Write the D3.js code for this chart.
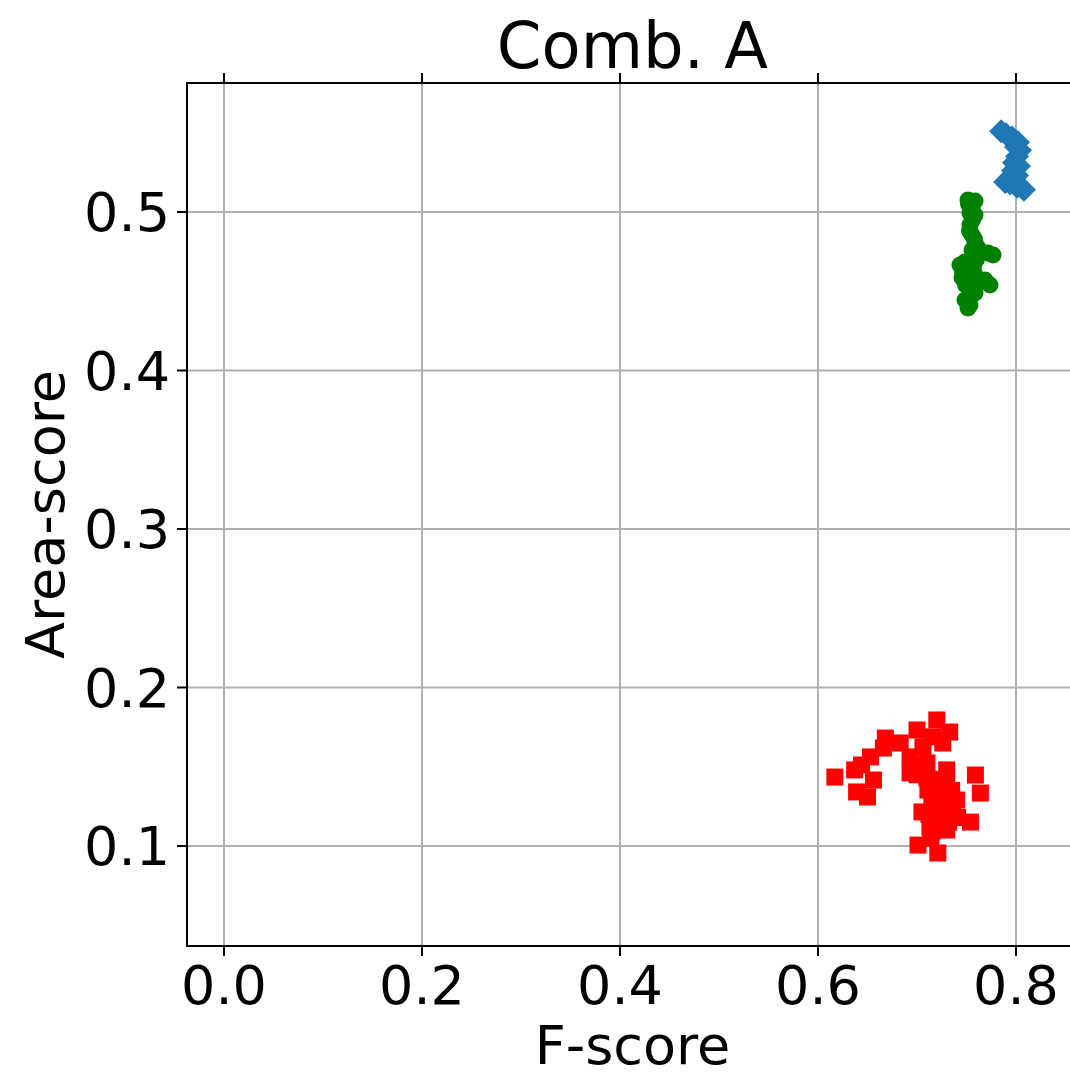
<!DOCTYPE html>
<meta charset="utf-8">
<script src="https://d3js.org/d3.v7.min.js"></script>
<style>
  body { margin: 0; background: #fff; }
  text { font-family: "DejaVu Sans", sans-serif; fill: #000; }
</style>
<div id="chart"></div>
<script>
// values
var xTicks = [0.0, 0.2, 0.4, 0.6, 0.8];
var yTicks = [0.1, 0.2, 0.3, 0.4, 0.5];

// blue diamonds
var blueX = [0.785, 0.790, 0.796, 0.802, 0.804, 0.801, 0.798, 0.797, 0.801, 0.792, 0.789, 0.801, 0.808, 0.800, 0.803, 0.795, 0.799, 0.794];
var blueY = [0.551, 0.549, 0.547, 0.544, 0.539, 0.535, 0.531, 0.526, 0.523, 0.520, 0.519, 0.516, 0.514, 0.541, 0.529, 0.522, 0.545, 0.518];

// green circles
var greenX = [0.7515, 0.7586, 0.7556, 0.7535, 0.7586, 0.7535, 0.7556, 0.7586, 0.7556, 0.7616, 0.7717, 0.7768, 0.7485, 0.7434, 0.7515, 0.7455, 0.7586, 0.7687, 0.7737, 0.7535, 0.7586, 0.7485, 0.7535, 0.7515, 0.7560, 0.7530, 0.7600, 0.7570, 0.7500, 0.7620, 0.7545, 0.7490, 0.7580, 0.7520, 0.7460, 0.7560];
var greenY = [0.5076, 0.5069, 0.5032, 0.4994, 0.4981, 0.4918, 0.4855, 0.4811, 0.4760, 0.4773, 0.4741, 0.4729, 0.4685, 0.4666, 0.4634, 0.4584, 0.4603, 0.4571, 0.4539, 0.4521, 0.4489, 0.4445, 0.4413, 0.4394, 0.4950, 0.4880, 0.4700, 0.4650, 0.4610, 0.4550, 0.4560, 0.4540, 0.4830, 0.5050, 0.4620, 0.4520];

// red squares
var redX = [0.617, 0.720, 0.733, 0.700, 0.668, 0.683, 0.666, 0.653, 0.644, 0.637, 0.656, 0.639, 0.650, 0.693, 0.693, 0.710, 0.730, 0.726, 0.759, 0.764, 0.740, 0.705, 0.713, 0.754, 0.730, 0.723, 0.701, 0.721, 0.711, 0.726, 0.706, 0.716, 0.736, 0.716, 0.710, 0.718, 0.725, 0.715, 0.730, 0.708, 0.722, 0.735, 0.712, 0.728, 0.719, 0.700, 0.741, 0.732, 0.714, 0.724];
var redY = [0.1435, 0.1795, 0.1719, 0.1732, 0.1681, 0.1650, 0.1618, 0.1562, 0.1511, 0.1480, 0.1416, 0.1341, 0.1309, 0.1562, 0.1461, 0.1524, 0.1480, 0.1353, 0.1448, 0.1334, 0.1290, 0.1215, 0.1120, 0.1151, 0.1101, 0.1227, 0.1006, 0.0956, 0.1353, 0.1650, 0.1625, 0.1688, 0.1227, 0.1095, 0.1430, 0.1380, 0.1300, 0.1260, 0.1400, 0.1500, 0.1170, 0.1350, 0.1200, 0.1250, 0.1320, 0.1450, 0.1180, 0.1150, 0.1050, 0.1420];

var width = 1070, height = 1076;
var frame = {left: 187, right: 1078, top: 83, bottom: 946};

var svg = d3.select("#chart")
  .append("svg")
    .attr("width", width)
    .attr("height", height);

var x = d3.scaleLinear().domain([0, 0.8]).range([224, 1016]);
var y = d3.scaleLinear().domain([0.1, 0.5]).range([846, 212]);

// grid
svg.append("g").selectAll("line")
  .data(xTicks).enter().append("line")
    .attr("x1", d => x(d)).attr("x2", d => x(d))
    .attr("y1", frame.top).attr("y2", frame.bottom)
    .attr("stroke", "#b0b0b0").attr("stroke-width", 2);
svg.append("g").selectAll("line")
  .data(yTicks).enter().append("line")
    .attr("y1", d => y(d)).attr("y2", d => y(d))
    .attr("x1", frame.left).attr("x2", frame.right)
    .attr("stroke", "#b0b0b0").attr("stroke-width", 2);

// points
var blue = blueX.map((v, i) => [v, blueY[i]]);
var green = greenX.map((v, i) => [v, greenY[i]]);
var red = redX.map((v, i) => [v, redY[i]]);

svg.append("g").selectAll("rect")
  .data(red).enter().append("rect")
    .attr("x", d => x(d[0]) - 8.5).attr("y", d => y(d[1]) - 8.5)
    .attr("width", 17).attr("height", 17)
    .attr("fill", "#ff0000");

svg.append("g").selectAll("circle")
  .data(green).enter().append("circle")
    .attr("cx", d => x(d[0])).attr("cy", d => y(d[1]))
    .attr("r", 8.5)
    .attr("fill", "#008000");

var diamond = "M0,-12L12,0L0,12L-12,0Z";
svg.append("g").selectAll("path")
  .data(blue).enter().append("path")
    .attr("d", diamond)
    .attr("transform", d => "translate(" + x(d[0]) + "," + y(d[1]) + ")")
    .attr("fill", "#1f77b4");

// spines
svg.append("rect")
  .attr("x", frame.left).attr("y", frame.top)
  .attr("width", frame.right - frame.left).attr("height", frame.bottom - frame.top)
  .attr("fill", "none").attr("stroke", "#000").attr("stroke-width", 2);

// ticks
svg.append("g").selectAll("line")
  .data(xTicks).enter().append("line")
    .attr("x1", d => x(d)).attr("x2", d => x(d))
    .attr("y1", frame.bottom).attr("y2", frame.bottom + 10)
    .attr("stroke", "#000").attr("stroke-width", 2);
svg.append("g").selectAll("line")
  .data(xTicks).enter().append("line")
    .attr("x1", d => x(d)).attr("x2", d => x(d))
    .attr("y1", frame.top).attr("y2", frame.top - 10)
    .attr("stroke", "#000").attr("stroke-width", 2);
svg.append("g").selectAll("line")
  .data(yTicks).enter().append("line")
    .attr("y1", d => y(d)).attr("y2", d => y(d))
    .attr("x1", frame.left).attr("x2", frame.left - 10)
    .attr("stroke", "#000").attr("stroke-width", 2);

// tick labels
svg.append("g").selectAll("text")
  .data(xTicks).enter().append("text")
    .attr("x", d => x(d)).attr("y", 1004)
    .attr("text-anchor", "middle")
    .style("font-size", "54px")
    .text(d => d.toFixed(1));
svg.append("g").selectAll("text")
  .data(yTicks).enter().append("text")
    .attr("x", 170).attr("y", d => y(d))
    .attr("dy", "0.36em")
    .attr("text-anchor", "end")
    .style("font-size", "54px")
    .text(d => d.toFixed(1));

// labels
svg.append("text")
  .attr("x", (frame.left + frame.right) / 2).attr("y", 68)
  .attr("text-anchor", "middle")
  .style("font-size", "64px")
  .text("Comb. A");
svg.append("text")
  .attr("x", (frame.left + frame.right) / 2).attr("y", 1064)
  .attr("text-anchor", "middle")
  .style("font-size", "54px")
  .text("F-score");
svg.append("text")
  .attr("transform", "translate(64," + ((frame.top + frame.bottom) / 2) + ") rotate(-90)")
  .attr("text-anchor", "middle")
  .style("font-size", "54px")
  .text("Area-score");
</script>
